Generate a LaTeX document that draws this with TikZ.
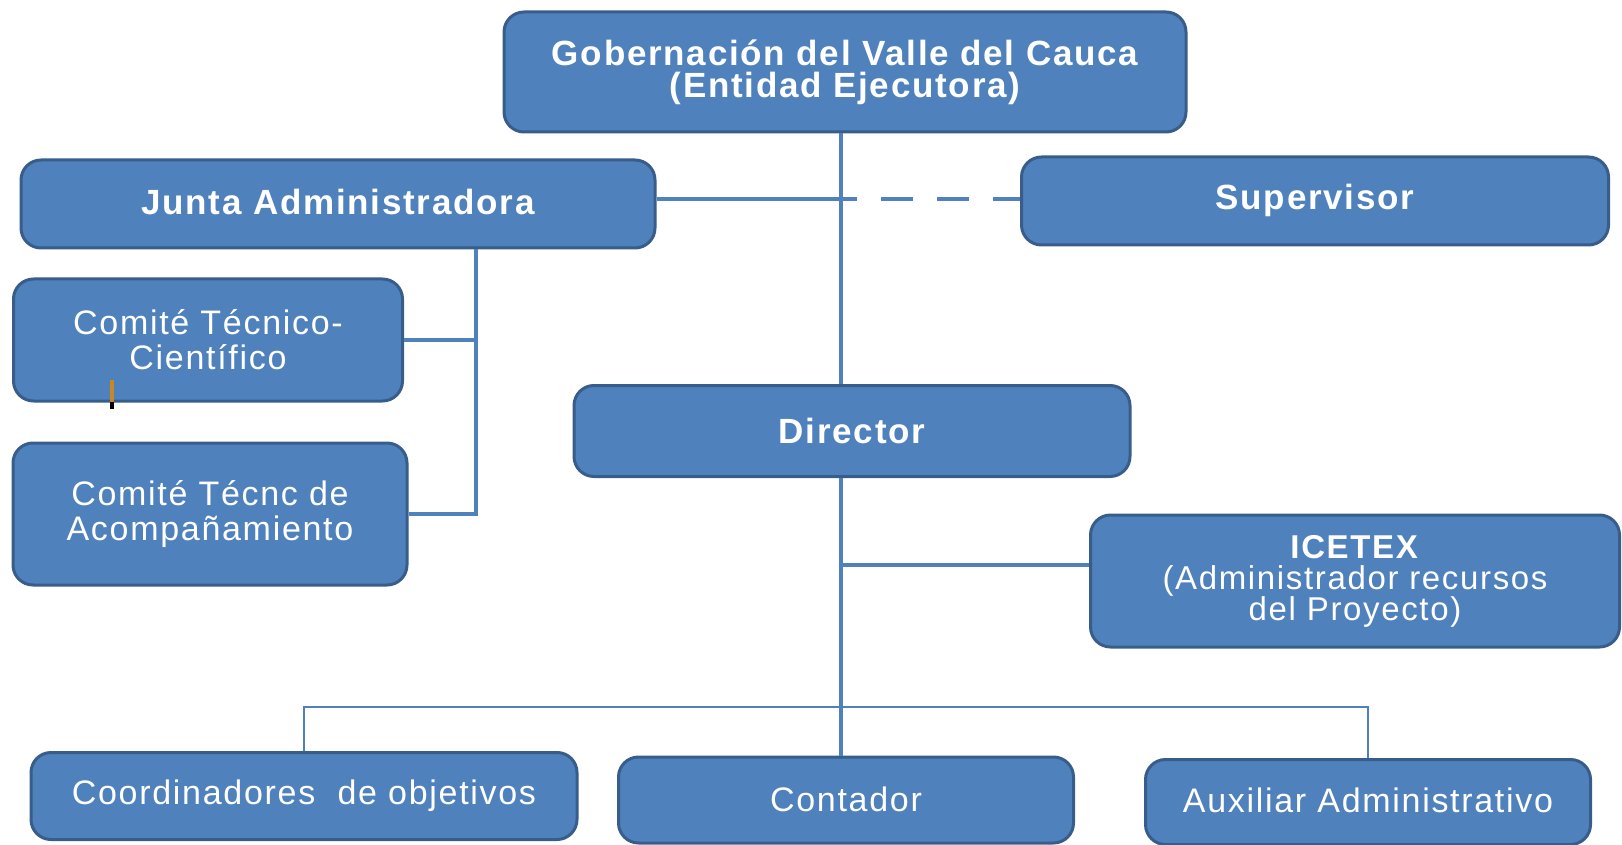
\documentclass[tikz,border=0pt]{standalone}
\usepackage{fontspec}
\setmainfont{Liberation Sans}[LetterSpace=5]
\usetikzlibrary{calc}
\definecolor{boxblue}{HTML}{4F81BD}
\definecolor{boxedge}{HTML}{385D8A}
\definecolor{markorange}{HTML}{C8862A}
\tikzset{
	unit/.style={draw=boxedge, line width=1.5pt, fill=boxblue, rounded corners=10pt,
		text=white, align=center, inner sep=0pt, font=\fontsize{17}{17.5}\selectfont},
	boldunit/.style={unit, font=\fontsize{17.5}{16}\selectfont\bfseries},
	link/.style={draw=boxblue, line width=2pt},
	thinlink/.style={draw=boxblue, line width=1.2pt},
}

\begin{document}
\begin{tikzpicture}[x=0.5pt, y=-0.5pt]
			%%%%% START %%%%%
			\useasboundingbox (0,0) rectangle (1622,845);
			
			\node[boldunit, minimum width=341pt, minimum height=60pt] (gob) at (845,72) {Gobernación del Valle del Cauca\\(Entidad Ejecutora)};
			
			\node[boldunit, minimum width=317pt, minimum height=44pt] (junta) at (338,204) {\raisebox{2pt}{Junta Administradora}};
			\node[boldunit, minimum width=293.5pt, minimum height=44pt] (sup) at (1315,201) {\raisebox{4pt}{Supervisor}};
			
			\node[unit, minimum width=194.5pt, minimum height=61pt] (cti) at (208,340) {Comité Técnico-\\Científico};
			\node[unit, minimum width=197pt, minimum height=71pt] (ctec) at (210,514) {Comité Técnc de\\Acompañamiento};
			
			\node[boldunit, minimum width=278pt, minimum height=45.5pt] (dir) at (852,431) {Director};
			
			\node[unit, minimum width=264.5pt, minimum height=66pt, font=\fontsize{16.5}{15.5}\selectfont] (ice) at (1355,581) {\textbf{ICETEX}\\(Administrador recursos\\del Proyecto)};
			
			\node[unit, minimum width=273pt, minimum height=43.5pt] (coord) at (304,796) {\raisebox{2pt}{Coordinadores\ \ de objetivos}};
			\node[unit, minimum width=227.5pt, minimum height=43pt] (cont) at (846,800) {\raisebox{1pt}{Contador}};
			\node[unit, minimum width=222.5pt, minimum height=42.5pt] (aux) at (1368,802) {\raisebox{2pt}{Auxiliar Administrativo}};
			
			% main line
			\coordinate (spine) at (841,199);
			\draw[link] (gob.south -| spine) -- (dir.north -| spine);
			\draw[link] (junta.east |- spine) -- (spine);
			\draw[link, dash pattern=on 16pt off 12pt, dash phase=8pt] (spine) -- (sup.west |- spine);
			
			% junta side
			\coordinate (jx) at (476,204);
			\draw[link] (junta.south -| jx) -- (jx |- ctec.east) -- (ctec.east);
			\draw[link] (cti.east) -- (cti.east -| jx);
			
			% director down
			\coordinate (iy) at (841,565);
			\draw[link] (dir.south -| spine) -- (cont.north -| spine);
			\draw[link] (iy) -- (iy -| ice.west);
			
			\coordinate (bar) at (841,707);
			\draw[thinlink] (coord.north) -- (coord.north |- bar) -- (aux.north |- bar) -- (aux.north);
			
			% small mark
			\fill[markorange] (110,380) rectangle (114,402);
			\fill[black] (110,402) rectangle (114,409);
			
			%%%%% END %%%%%
		\end{tikzpicture}
\end{document}
